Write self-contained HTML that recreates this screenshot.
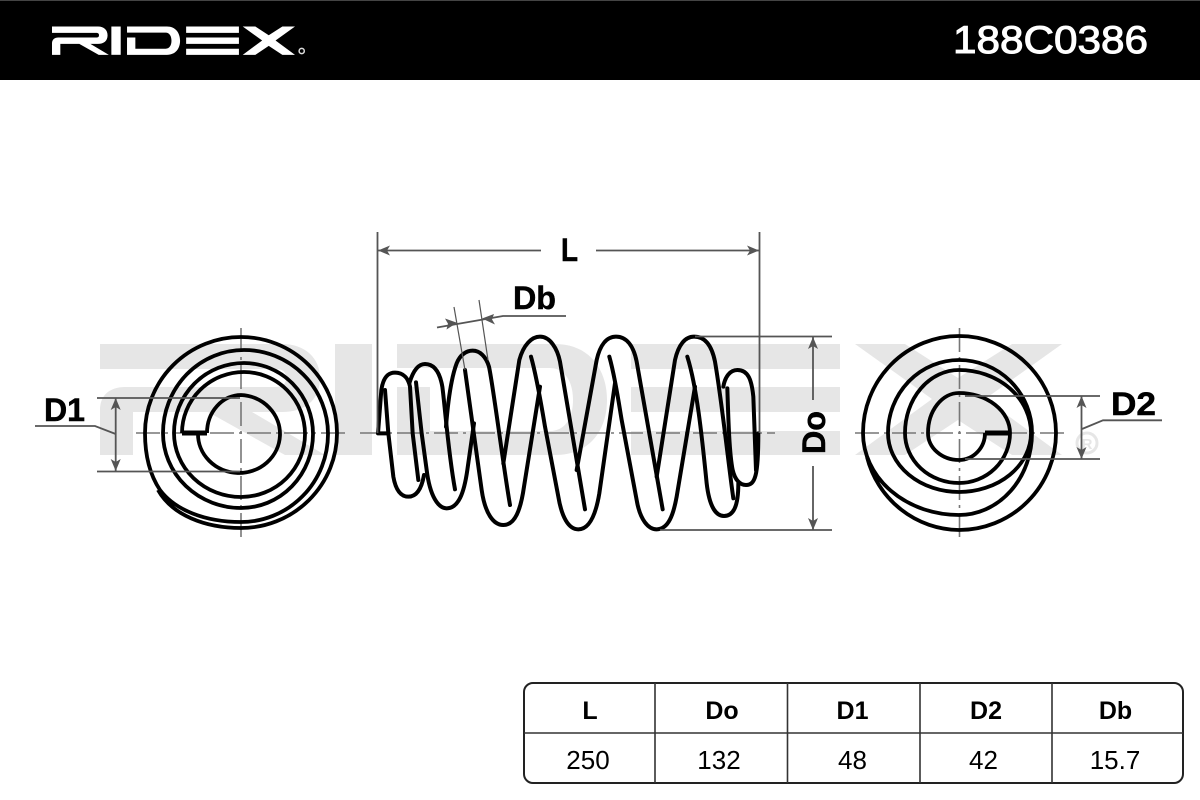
<!DOCTYPE html>
<html><head><meta charset="utf-8"><style>html,body{margin:0;padding:0;background:#fff}svg{display:block}text{font-family:"Liberation Sans",sans-serif}</style></head>
<body>
<svg xmlns="http://www.w3.org/2000/svg" width="1200" height="800" viewBox="0 0 1200 800">
<defs>
<g id="logo">
<path d="M100,344 H282 C305,344 320,358 320,378 C320,400 305,412 282,412 H252 L325,455 H285 L208,412 H133 V455 H100 V410 C100,395 110,387 125,387 H275 C283,387 286,384 286,378 C286,372 283,369 275,369 H100 Z"/>
<rect x="335" y="344" width="37" height="111"/>
<path d="M397,344 H555 C590,344 607,370 607,400 C607,430 590,455 555,455 H397 V387 H430 V431 H550 C565,431 573,418 573,400 C573,382 565,368 550,368 H397 Z"/>
<path d="M631,344 H840 V369 H631 Z M631,387 H840 V412 H631 Z M631,431 H840 V455 H631 Z"/>
<path d="M855,344 H905 L958,378 L1012,344 H1062 L985,399 L1062,455 H1012 L958,420 L905,455 H855 L932,399 Z"/>
</g>
</defs>
<rect width="1200" height="800" fill="#fff"/>
<rect width="1200" height="80" fill="#000"/>
<rect width="1200" height="1" fill="#444"/>
<g fill="#fff" transform="translate(26.74,-61.2) scale(.2526,.255)"><use href="#logo"/></g>
<circle cx="301.7" cy="51" r="2.6" fill="none" stroke="#ddd" stroke-width="1.5"/>
<text x="953" y="53" font-size="39" fill="#fff" stroke="#fff" stroke-width="1" textLength="195" lengthAdjust="spacingAndGlyphs">188C0386</text>

<g fill="#e6e6e6"><use href="#logo"/></g>
<circle cx="1087" cy="443" r="10" fill="none" stroke="#e6e6e6" stroke-width="3"/>
<text x="1087" y="449" font-size="15" font-weight="bold" fill="#e6e6e6" text-anchor="middle">R</text>

<!-- center lines -->
<g stroke="#777" stroke-width="1.6" fill="none" stroke-dasharray="24 5 3 5">
<path d="M136,433 H347"/><path d="M241,328 V538"/>
<path d="M360,433 H775"/>
<path d="M855,433 H1065"/><path d="M959.5,328 V538"/>
</g>

<!-- left end view -->
<g fill="none" stroke="#000" stroke-width="3.8">
<path d="M198,433 A41,39 0 1 0 241,395 A34,38 0 0 0 207,433"/>
<path d="M182,433 A62,61 0 0 1 244,372 A61,62 0 0 1 305,434 A64,63 0 0 1 241,497 A67,64 0 0 1 174,433 A70,70 0 0 1 244,363 A69,71 0 0 1 313,434 A72,74 0 0 1 241,508 A78,75 0 0 1 163,433 A81,83 0 0 1 244,350 A84,84 0 0 1 328,434 A87,88 0 0 1 241,522 C205,522 175,510 160,490 C150,475 145,455 145,433 A96,96 0 0 1 241,337 A96,96 0 0 1 337,433 A96,95 0 0 1 241,528 C205,528 172,515 158,490"/>
<path d="M182,433 H207" stroke-width="5"/>
</g>

<!-- right end view -->
<g fill="none" stroke="#000" stroke-width="3.8">
<path d="M985,433 A26,27 0 0 1 959,460 A31,27 0 0 1 928,433 A31,40 0 0 1 959,393 A51,40 0 0 1 1010,433 A51,50 0 0 1 959,483 A54,50 0 0 1 905,433 A54,63 0 0 1 959,370 A72,63 0 0 1 1031,433 A72,59 0 0 1 959,492 A71,59 0 0 1 888,433 A71,73 0 0 1 959,360 A73,73 0 0 1 1032,433 A73,82 0 0 1 959,515 A96,82 0 0 1 863,433 A96,97 0 0 1 959,336 A97,97 0 0 1 1056,433 A97,97 0 0 1 959,530 A96,97 0 0 1 867,457"/>
<path d="M985,433 H1010" stroke-width="5"/>
</g>

<!-- spring, left part -->
<g transform="translate(360,220) scale(.33333)" fill="none" stroke="#000" stroke-width="12" stroke-linecap="round" stroke-linejoin="round">
<path d="M85,640 H54 L64,510 C70,470 85,458 105,458 C130,458 145,475 150,500 L158,640 L175,780"/>
<path d="M75,510 L85,640 L100,770 C108,815 125,830 145,830 C170,830 185,805 192,765"/>
<path d="M148,490 C160,450 175,432 195,432 C225,432 240,460 247,500 C255,560 265,700 285,808"/>
<path d="M168,487 L185,640 L200,750 C210,830 235,865 260,865 C295,865 312,820 322,750 L342,610"/>
<path d="M258,620 C265,530 275,470 290,430 C300,405 318,392 338,392 C360,392 378,410 387,440 C400,500 430,740 450,855"/>
<path d="M315,450 L365,810 C375,880 400,915 430,915 C465,915 482,870 492,800 L540,500"/>
<path d="M430,730 L478,420 C490,375 515,350 540,350 C570,350 592,385 600,425 L675,868"/>
<path d="M513,410 C530,470 545,560 555,620 L595,830 C605,890 625,928 655,928 C690,928 708,880 718,820 L765,490"/>
</g>
<!-- spring, right part -->
<g transform="translate(590,220) scale(.33333)" fill="none" stroke="#000" stroke-width="12" stroke-linecap="round" stroke-linejoin="round">
<path d="M-40,750 L20,420 C30,375 50,350 78,350 C108,350 130,375 140,425 L218,868"/>
<path d="M58,410 C75,470 85,540 95,600 L140,840 C150,900 175,928 200,928 C235,928 250,885 260,830 L315,500"/>
<path d="M200,770 L255,420 C265,375 285,350 312,350 C345,350 365,375 375,425 C395,540 415,730 430,835"/>
<path d="M292,410 C320,500 335,640 350,790 C358,860 378,888 402,888 C430,888 445,860 445,790"/>
<path d="M400,500 C405,470 420,450 442,450 C475,450 485,480 490,530 L498,750"/>
<path d="M412,505 C415,600 418,700 428,750 C435,780 450,795 468,795 C495,795 505,770 505,640"/>
</g>

<!-- dimension lines -->
<g fill="none" stroke="#555" stroke-width="1.8">
<path d="M377.5,232 V433 M759.5,232 V433"/>
<path d="M378,250.5 H541 M596,250.5 H759"/>
<path d="M454,307 L465,370 M479,300 L488,360" stroke-width="1.2"/>
<path d="M437,327.5 L503,316 H566"/>
<path d="M695,336.5 H832 M660,530 H832"/>
<path d="M813,337 V400 M813,466 V530"/>
<path d="M97,398 H240 M97,471.5 H240"/>
<path d="M115.7,398 V471"/>
<path d="M35,426 H95 L115.7,434"/>
<path d="M965,396 H1100 M965,459 H1100"/>
<path d="M1081.5,396 V459"/>
<path d="M1082,429 L1103,420.3 H1162"/>
</g>
<g fill="#555">
<path d="M378,250.5 L390,245.5 L387,250.5 L390,255.5 Z"/>
<path d="M759,250.5 L747,245.5 L750,250.5 L747,255.5 Z"/>
<path d="M457,322.8 L445,318.5 L448,323.8 L446.5,329.5 Z"/>
<path d="M482,318.5 L494,314 L492,319.4 L495,324.5 Z"/>
<path d="M813,337 L808,349 L813,346 L818,349 Z"/>
<path d="M813,530 L808,518 L813,521 L818,518 Z"/>
<path d="M115.7,398 L110.7,410 L115.7,407 L120.7,410 Z"/>
<path d="M115.7,471 L110.7,459 L115.7,462 L120.7,459 Z"/>
<path d="M1081.5,396 L1076.5,408 L1081.5,405 L1086.5,408 Z"/>
<path d="M1081.5,459 L1076.5,447 L1081.5,450 L1086.5,447 Z"/>
</g>

<!-- labels -->
<g font-weight="bold" fill="#000" stroke="#000" stroke-width=".5" font-size="32">
<text x="561" y="261" textLength="17" lengthAdjust="spacingAndGlyphs">L</text>
<text x="513" y="309" textLength="43" lengthAdjust="spacingAndGlyphs">Db</text>
<text x="44" y="421" textLength="41" lengthAdjust="spacingAndGlyphs">D1</text>
<text x="1111" y="415" textLength="45" lengthAdjust="spacingAndGlyphs">D2</text>
<text transform="translate(825,454) rotate(-90)" textLength="43" lengthAdjust="spacingAndGlyphs">Do</text>
</g>

<!-- table -->
<g fill="none">
<rect x="524" y="683" width="659" height="100" rx="9" stroke="#222" stroke-width="2"/>
<path d="M524,733 H1183 M655,683 V783 M787.5,683 V783 M920,683 V783 M1052,683 V783" stroke="#333" stroke-width="1.6"/>
</g>
<g font-weight="bold" font-size="25" text-anchor="middle" fill="#000">
<text x="590" y="719">L</text>
<text x="722" y="719">Do</text>
<text x="852.5" y="719">D1</text>
<text x="986" y="719">D2</text>
<text x="1115.5" y="719">Db</text>
</g>
<g font-size="26" text-anchor="middle" fill="#000">
<text x="588" y="769">250</text>
<text x="719" y="769">132</text>
<text x="852.5" y="769">48</text>
<text x="983.5" y="769">42</text>
<text x="1115" y="769">15.7</text>
</g>
</svg>
</body></html>
